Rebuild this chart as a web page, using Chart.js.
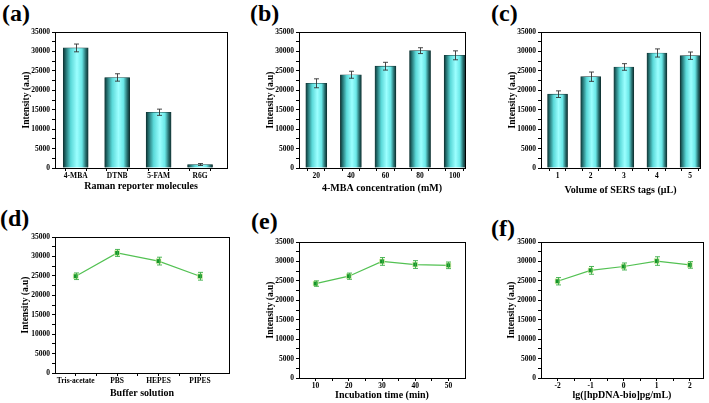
<!DOCTYPE html>
<html>
<head>
<meta charset="utf-8">
<script src="https://cdn.jsdelivr.net/npm/chart.js@4/dist/chart.umd.min.js"></script>
<style>
    html, body { margin: 0; padding: 0; background: #fff; overflow: hidden; }
    body { width: 709px; height: 403px; position: relative; }
    canvas { position: absolute; }
    .tag { position: absolute; font-family: "Liberation Serif", serif; font-weight: bold; font-size: 24px; line-height: 24px; color: #000; }
</style>
</head>
<body>
<div class="tag" style="left:2px;top:1px">(a)</div>
<div class="tag" style="left:250px;top:1px">(b)</div>
<div class="tag" style="left:491px;top:1px">(c)</div>
<div class="tag" style="left:0px;top:206px">(d)</div>
<div class="tag" style="left:251px;top:209px">(e)</div>
<div class="tag" style="left:491px;top:216px">(f)</div>
<canvas id="chart-a"></canvas>
<canvas id="chart-b"></canvas>
<canvas id="chart-c"></canvas>
<canvas id="chart-d"></canvas>
<canvas id="chart-e"></canvas>
<canvas id="chart-f"></canvas>
<script>
// values
const yTicks = [0, 5000, 10000, 15000, 20000, 25000, 30000, 35000];

const aLabels = ['4-MBA', 'DTNB', '5-FAM', 'R6G'];
const aValues = [30900, 23300, 14350, 900];
const aErrors = [1000, 950, 800, 250];

const bLabels = ['20', '40', '60', '80', '100'];
const bValues = [21800, 24000, 26200, 30200, 29000];
const bErrors = [1150, 900, 1000, 750, 1150];

const cLabels = ['1', '2', '3', '4', '5'];
const cValues = [19000, 23500, 26000, 29600, 28900];
const cErrors = [850, 1200, 850, 1050, 950];

const dLabels = ['Tris-acetate', 'PBS', 'HEPES', 'PIPES'];
const dValues = [24900, 30900, 28800, 24900];
const dErrors = [850, 900, 1000, 1000];

const eLabels = ['10', '20', '30', '40', '50'];
const eValues = [24300, 26200, 30000, 29200, 29000];
const eErrors = [700, 800, 1000, 1000, 850];

const fLabels = ['-2', '-1', '0', '1', '2'];
const fValues = [24900, 27700, 28700, 30100, 29100];
const fErrors = [950, 1000, 900, 1100, 850];

const FONT = '"Liberation Serif", "Times New Roman", serif';

// frame around the plot area (Origin style box)
const framePlugin = {
    id: 'frame',
    afterDraw(chart) {
        const { ctx, chartArea: a } = chart;
        ctx.save();
        ctx.strokeStyle = '#000';
        ctx.lineWidth = 1;
        ctx.strokeRect(Math.round(a.left) + 0.5, Math.round(a.top) + 0.5,
            Math.round(a.right - a.left), Math.round(a.bottom - a.top));
        ctx.restore();
    }
};

// error bars with caps, positioned through the chart's own scales
const errorBarPlugin = {
    id: 'errorBars',
    afterDatasetsDraw(chart, args, opts) {
        const { ctx } = chart;
        const xs = chart.scales.x, ys = chart.scales.y;
        const values = opts.values, errors = opts.errors;
        ctx.save();
        ctx.strokeStyle = opts.color;
        ctx.lineWidth = 0.9;
        values.forEach((v, i) => {
            const x = Math.round(xs.getPixelForValue(i + 1)) + 0.5;
            const top = ys.getPixelForValue(v + errors[i]);
            const bot = ys.getPixelForValue(v - errors[i]);
            ctx.beginPath();
            ctx.moveTo(x, top); ctx.lineTo(x, bot);
            ctx.moveTo(x - 2.5, top); ctx.lineTo(x + 2.5, top);
            ctx.moveTo(x - 2.5, bot); ctx.lineTo(x + 2.5, bot);
            ctx.stroke();
        });
        ctx.restore();
    }
};

function barGradient(width) {
    return function(context) {
        const chart = context.chart;
        if (!chart.chartArea || !context.raw) return '#4ee8e8';
        const cx = chart.scales.x.getPixelForValue(context.raw.x);
        const g = chart.ctx.createLinearGradient(cx - width / 2, 0, cx + width / 2, 0);
        g.addColorStop(0, '#0e3333');
        g.addColorStop(0.1, '#236f6f');
        g.addColorStop(0.3, '#5ad9d9');
        g.addColorStop(0.55, '#9cffff');
        g.addColorStop(0.75, '#6ae8e8');
        g.addColorStop(0.9, '#287070');
        g.addColorStop(1, '#0c2e2e');
        return g;
    };
}

function makePanel(p) {
    const canvas = document.getElementById(p.id);
    const left = p.yTitleX - 6;
    const top = p.plot.t - 8;
    const width = p.plot.r + 5 - left;
    const height = p.xTitleY + 6 - top;
    canvas.width = width;
    canvas.height = height;
    canvas.style.left = left + 'px';
    canvas.style.top = top + 'px';
    canvas.style.width = width + 'px';
    canvas.style.height = height + 'px';

    const points = p.values.map((v, i) => ({ x: i + 1, y: v }));
    const isBar = p.type === 'bar';
    const dataset = isBar ? {
        data: points,
        backgroundColor: barGradient(p.barWidth),
        borderColor: '#123838',
        borderWidth: 0.6,
        barThickness: p.barWidth
    } : {
        data: points,
        borderColor: '#52c152',
        borderWidth: 1.2,
        pointStyle: 'rect',
        pointRadius: 3.4,
        pointBackgroundColor: '#15962a',
        pointBorderColor: 'rgba(236,246,180,0.9)',
        pointBorderWidth: 0.8,
        tension: 0
    };

    // major ticks at the categories, minor ticks halfway between
    const xTickValues = [];
    p.labels.forEach((l, i) => {
        xTickValues.push(i + 1);
        if (i < p.labels.length - 1) xTickValues.push(i + 1.5);
    });

    return new Chart(canvas, {
        type: p.type,
        data: { datasets: [dataset] },
        options: {
            responsive: false,
            animation: false,
            devicePixelRatio: 1,
            layout: { padding: { top: 8, right: 5, left: 0, bottom: 0 } },
            plugins: {
                legend: { display: false },
                tooltip: { enabled: false },
                errorBars: { values: p.values, errors: p.errors, color: isBar ? '#333' : '#3aae46' }
            },
            scales: {
                x: {
                    type: 'linear',
                    min: 0.5,
                    max: p.xMax,
                    offset: false,
                    afterBuildTicks: s => { s.ticks = xTickValues.map(v => ({ value: v })); },
                    afterFit: s => { s.height = height - (p.plot.b - top); },
                    border: { display: true, color: '#000', width: 1 },
                    grid: { drawOnChartArea: false, drawTicks: true, tickLength: 3, color: '#000' },
                    ticks: {
                        autoSkip: false,
                        maxRotation: 0,
                        padding: 1,
                        color: '#000',
                        font: { family: FONT, weight: 'bold', size: 7.5 },
                        callback: v => Number.isInteger(v) ? p.labels[v - 1] : ''
                    },
                    title: {
                        display: true,
                        text: p.xTitle,
                        color: '#000',
                        padding: 0,
                        font: { family: FONT, weight: 'bold', size: 10, lineHeight: 1.2 }
                    }
                },
                y: {
                    min: 0,
                    max: 35000,
                    afterBuildTicks: s => {
                        const t = [];
                        for (let v = 0; v <= 35000; v += 2500) t.push({ value: v });
                        s.ticks = t;
                    },
                    afterFit: s => { s.width = p.plot.l - left; },
                    border: { display: true, color: '#000', width: 1 },
                    grid: { drawOnChartArea: false, drawTicks: true, tickLength: 3, color: '#000' },
                    ticks: {
                        autoSkip: false,
                        padding: 2,
                        color: '#000',
                        font: { family: FONT, weight: 'bold', size: 7.5 },
                        callback: v => yTicks.includes(v) ? String(v) : ''
                    },
                    title: {
                        display: true,
                        text: 'Intensity (a.u)',
                        color: '#000',
                        padding: 0,
                        font: { family: FONT, weight: 'bold', size: 9.5, lineHeight: 1.2 }
                    }
                }
            }
        },
        plugins: [framePlugin, errorBarPlugin]
    });
}

function setupCharts() {
    makePanel({ id: 'chart-a', type: 'bar', labels: aLabels, values: aValues, errors: aErrors,
        plot: { l: 55, t: 32, r: 227, b: 168 }, yTitleX: 27, xTitleY: 186, xMax: 4.65, barWidth: 25,
        xTitle: 'Raman reporter molecules' });
    makePanel({ id: 'chart-b', type: 'bar', labels: bLabels, values: bValues, errors: bErrors,
        plot: { l: 299, t: 32, r: 465, b: 168 }, yTitleX: 271, xTitleY: 188, xMax: 5.3, barWidth: 21,
        xTitle: '4-MBA concentration (mM)' });
    makePanel({ id: 'chart-c', type: 'bar', labels: cLabels, values: cValues, errors: cErrors,
        plot: { l: 541, t: 32, r: 700, b: 168 }, yTitleX: 513, xTitleY: 190, xMax: 5.3, barWidth: 20,
        xTitle: 'Volume of SERS tags (μL)' });
    makePanel({ id: 'chart-d', type: 'line', labels: dLabels, values: dValues, errors: dErrors,
        plot: { l: 55, t: 237, r: 229, b: 373 }, yTitleX: 26, xTitleY: 393, xMax: 4.7,
        xTitle: 'Buffer solution' });
    makePanel({ id: 'chart-e', type: 'line', labels: eLabels, values: eValues, errors: eErrors,
        plot: { l: 299, t: 242, r: 465, b: 378 }, yTitleX: 271, xTitleY: 395, xMax: 5.5,
        xTitle: 'Incubation time (min)' });
    makePanel({ id: 'chart-f', type: 'line', labels: fLabels, values: fValues, errors: fErrors,
        plot: { l: 541, t: 242, r: 703, b: 378 }, yTitleX: 512, xTitleY: 395, xMax: 5.4,
        xTitle: 'lg([hpDNA-bio]pg/mL)' });
}

setupCharts();
</script>
</body>
</html>
